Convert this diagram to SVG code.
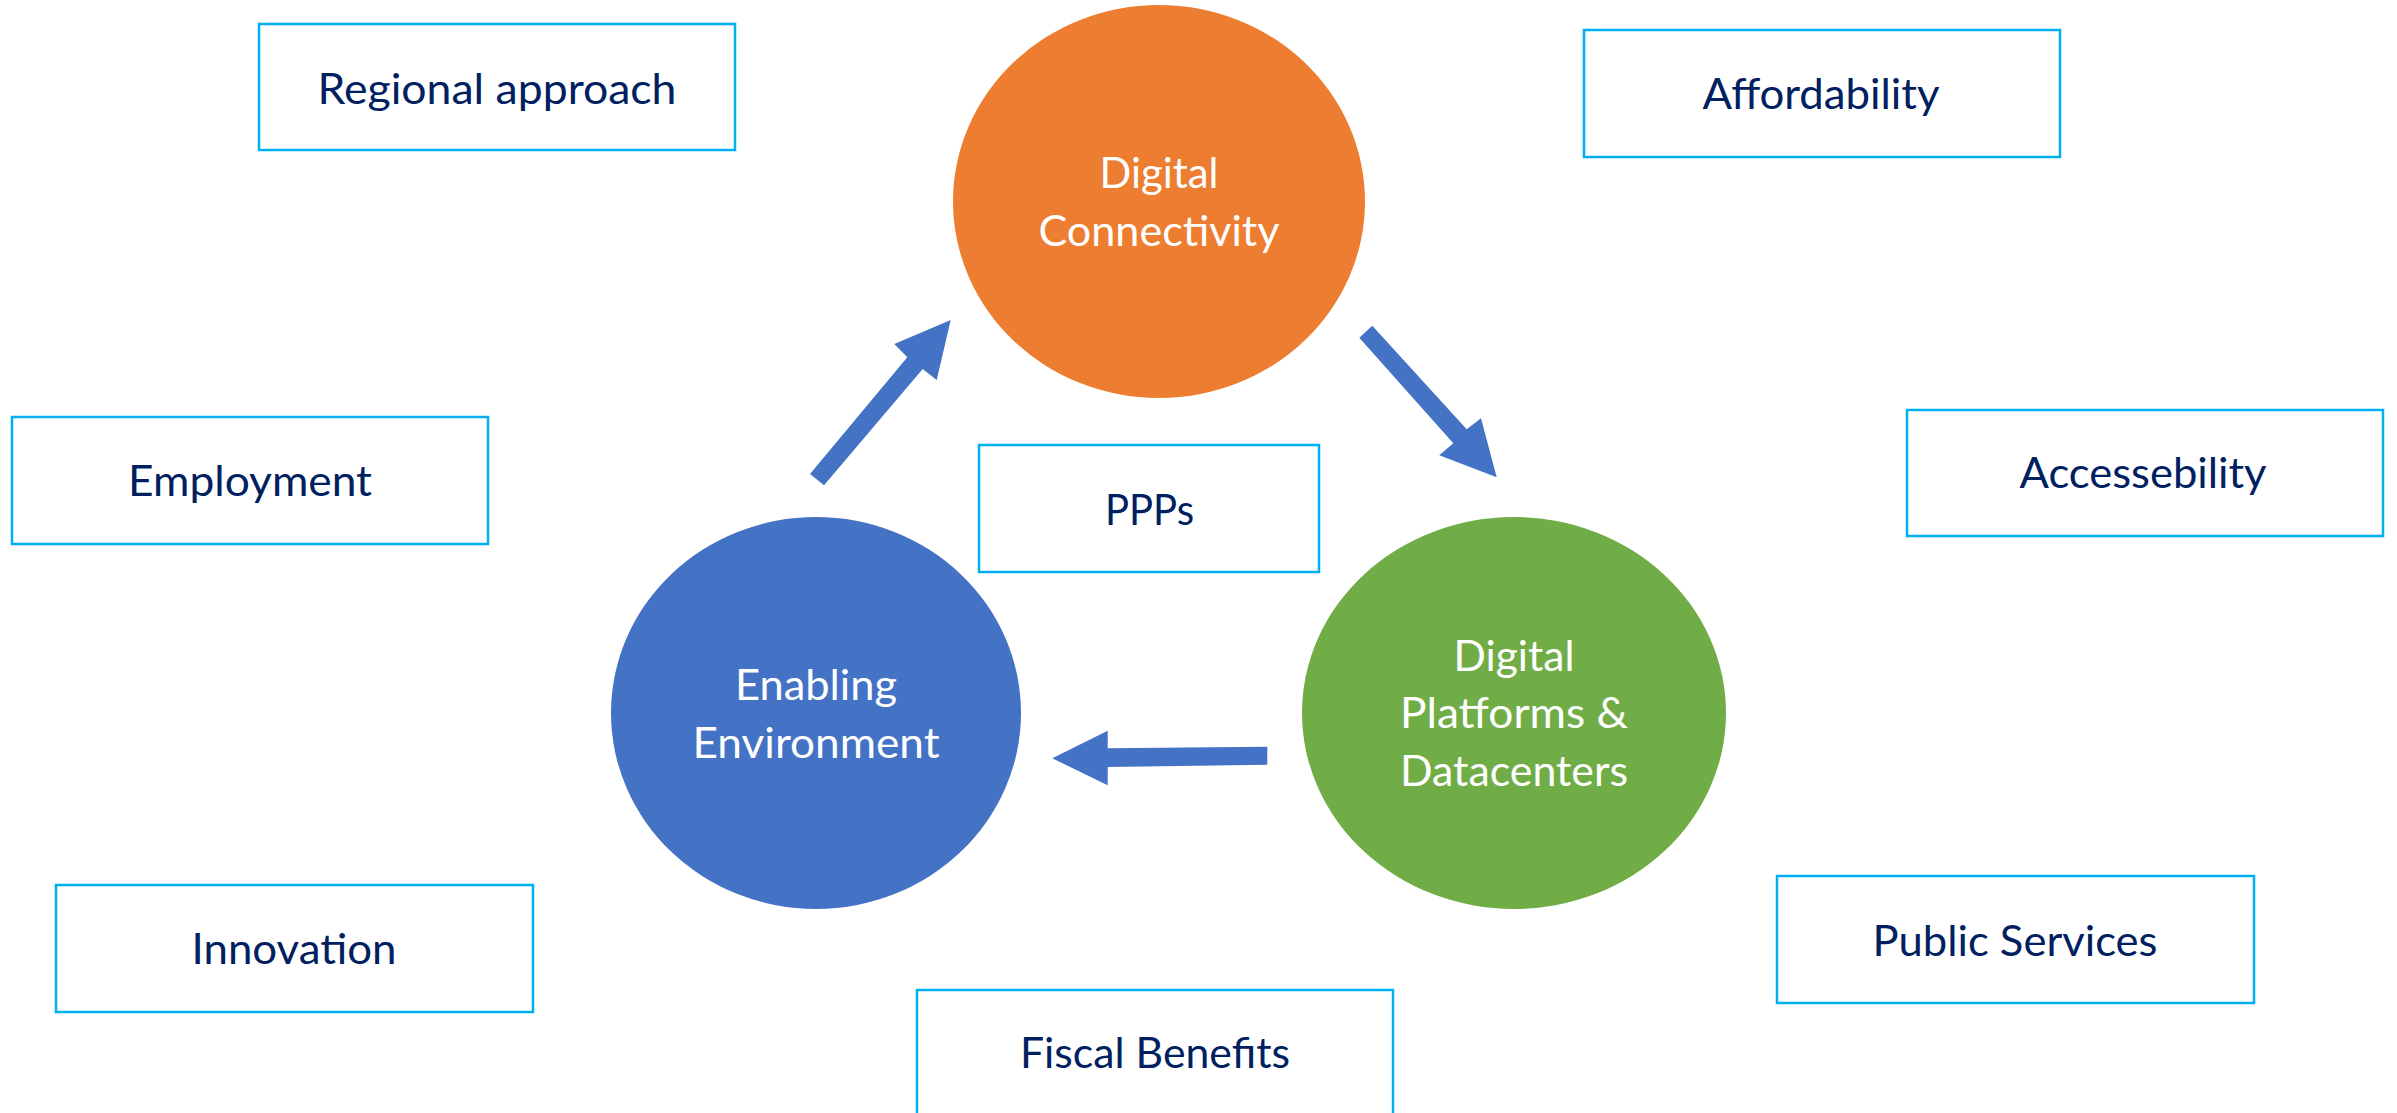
<svg xmlns="http://www.w3.org/2000/svg" width="2397" height="1113" viewBox="0 0 2397 1113">
<style>
.box{fill:#FFFFFF;stroke:#00B0F0;stroke-width:2.5}
.lbl{font-family:"Lato","Open Sans",sans-serif;font-size:42px;fill:#002060;text-anchor:middle}
.wlbl{font-family:"Lato","Open Sans",sans-serif;font-size:42px;fill:#FFFFFF;text-anchor:middle}
.arrow{fill:#4472C4}
</style>
<rect width="2397" height="1113" fill="#FFFFFF"/>
<g id="node-digital-connectivity">
<ellipse cx="1159" cy="201.5" rx="206" ry="196.5" fill="#ED7D31"/>
<text class="wlbl" x="1159" y="188" textLength="119" lengthAdjust="spacingAndGlyphs">Digital</text>
<text class="wlbl" x="1159" y="246" textLength="241" lengthAdjust="spacingAndGlyphs">Connectivity</text>
</g>
<g id="node-enabling-environment">
<ellipse cx="816" cy="713" rx="205" ry="196" fill="#4472C4"/>
<text class="wlbl" x="816" y="699.5" textLength="162" lengthAdjust="spacingAndGlyphs">Enabling</text>
<text class="wlbl" x="816" y="757.5" textLength="247" lengthAdjust="spacingAndGlyphs">Environment</text>
</g>
<g id="node-digital-platforms">
<ellipse cx="1514" cy="713" rx="212" ry="196" fill="#70AD47"/>
<text class="wlbl" x="1514" y="671" textLength="121" lengthAdjust="spacingAndGlyphs">Digital</text>
<text class="wlbl" x="1514" y="728" textLength="228" lengthAdjust="spacingAndGlyphs">Platforms &amp;</text>
<text class="wlbl" x="1514" y="786" textLength="228" lengthAdjust="spacingAndGlyphs">Datacenters</text>
</g>
<g id="connectors">
<polygon class="arrow" points="810,474 907.3,357.3 894.3,344 950.7,320 936.7,380 922.7,369 824,485.3"/>
<polygon class="arrow" points="1359.3,337.7 1372.3,325.7 1466.7,429.3 1481,418.3 1496.7,477.3 1439.3,455.3 1453.3,443.3"/>
<polygon class="arrow" points="1267.3,746.7 1107.7,748.3 1107.7,730.7 1052.3,758.3 1107.7,785.3 1107.7,767 1267.3,764.7"/>
</g>
<g id="node-regional-approach">
<rect class="box" x="259" y="24" width="476" height="126"/>
<text class="lbl" x="497" y="104" textLength="359" lengthAdjust="spacingAndGlyphs">Regional approach</text>
</g>
<g id="node-affordability">
<rect class="box" x="1584" y="30" width="476" height="127"/>
<text class="lbl" x="1821" y="109" textLength="237" lengthAdjust="spacingAndGlyphs">Affordability</text>
</g>
<g id="node-employment">
<rect class="box" x="12" y="417" width="476" height="127"/>
<text class="lbl" x="250" y="496" textLength="244" lengthAdjust="spacingAndGlyphs">Employment</text>
</g>
<g id="node-accessebility">
<rect class="box" x="1907" y="410" width="476" height="126"/>
<text class="lbl" x="2143" y="488" textLength="247" lengthAdjust="spacingAndGlyphs">Accessebility</text>
</g>
<g id="node-ppps">
<rect class="box" x="979" y="445" width="340" height="127"/>
<text class="lbl" x="1149.5" y="525" textLength="89" lengthAdjust="spacingAndGlyphs">PPPs</text>
</g>
<g id="node-innovation">
<rect class="box" x="56" y="885" width="477" height="127"/>
<text class="lbl" x="294" y="964" textLength="205" lengthAdjust="spacingAndGlyphs">Innovation</text>
</g>
<g id="node-public-services">
<rect class="box" x="1777" y="876" width="477" height="127"/>
<text class="lbl" x="2015" y="955.5" textLength="285" lengthAdjust="spacingAndGlyphs">Public Services</text>
</g>
<g id="node-fiscal-benefits">
<rect class="box" x="917" y="990" width="476" height="127"/>
<text class="lbl" x="1155" y="1068" textLength="270" lengthAdjust="spacingAndGlyphs">Fiscal Benefits</text>
</g>
</svg>
